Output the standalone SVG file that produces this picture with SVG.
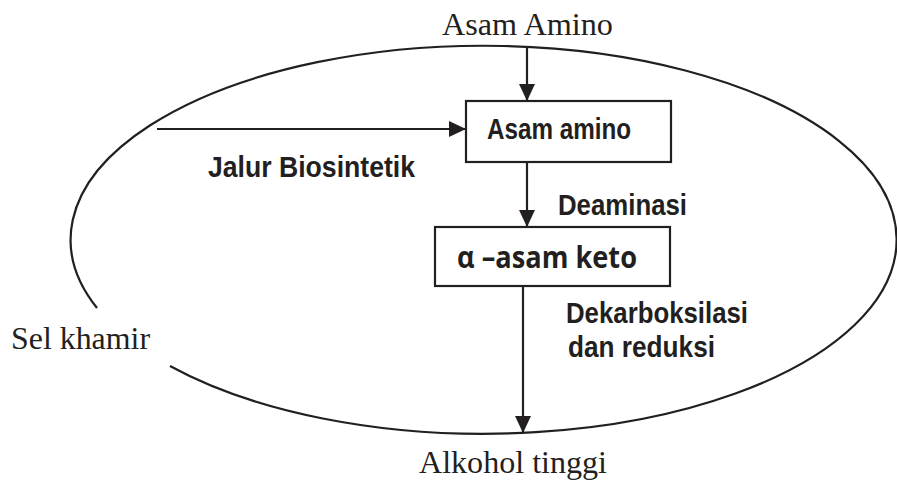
<svg xmlns="http://www.w3.org/2000/svg" width="897" height="480" viewBox="0 0 897 480">
<style>
.line{stroke:#231f20;stroke-width:2.2;fill:none}
.box{stroke:#231f20;stroke-width:2.2;fill:#ffffff}
.serif{font-family:"Liberation Serif","Times New Roman",serif;font-size:31.5px;fill:#231f20}
.bold{font-family:"Liberation Sans Narrow","Liberation Sans",Arial,sans-serif;font-weight:bold;font-size:29.5px;fill:#231f20}
.keto{font-family:"Open Sans","Noto Sans",sans-serif;font-weight:bold;font-size:30px;fill:#231f20}
</style>
<defs>
<marker id="arr" markerUnits="userSpaceOnUse" markerWidth="17" markerHeight="16" refX="17" refY="8" orient="auto">
<path d="M0,0 L17,8 L0,16 z" fill="#231f20"/>
</marker>
</defs>
<g id="cell">
<path class="line" d="M 97 308 A 413 194 0 1 1 170 366"/>
<text class="serif" x="11" y="349" textLength="139" lengthAdjust="spacingAndGlyphs">Sel khamir</text>
</g>
<g id="input">
<text class="serif" x="442" y="35" textLength="171" lengthAdjust="spacingAndGlyphs">Asam Amino</text>
</g>
<g id="output">
<text class="serif" x="419" y="473" textLength="188" lengthAdjust="spacingAndGlyphs">Alkohol tinggi</text>
</g>
<g id="asam-amino">
<rect class="box" x="466" y="101" width="205" height="61"/>
<text class="bold" x="487" y="139" textLength="144" lengthAdjust="spacingAndGlyphs">Asam amino</text>
</g>
<g id="asam-keto">
<rect class="box" x="435" y="227" width="235" height="59"/>
<text class="keto" x="457" y="268" textLength="180" lengthAdjust="spacingAndGlyphs">α –asam keto</text>
</g>
<g id="connectors">
<line class="line" x1="527" y1="47" x2="527" y2="101" marker-end="url(#arr)"/>
<line class="line" x1="157" y1="129" x2="466" y2="129" marker-end="url(#arr)"/>
<line class="line" x1="527" y1="162" x2="527" y2="227" marker-end="url(#arr)"/>
<line class="line" x1="523" y1="286" x2="523" y2="433" marker-end="url(#arr)"/>
</g>
<g id="labels">
<text class="bold" x="208" y="177" textLength="207" lengthAdjust="spacingAndGlyphs">Jalur Biosintetik</text>
<text class="bold" x="558" y="215" textLength="129" lengthAdjust="spacingAndGlyphs">Deaminasi</text>
<text class="bold" x="566" y="323" textLength="182" lengthAdjust="spacingAndGlyphs">Dekarboksilasi</text>
<text class="bold" x="568" y="357" textLength="147" lengthAdjust="spacingAndGlyphs">dan reduksi</text>
</g>
</svg>
